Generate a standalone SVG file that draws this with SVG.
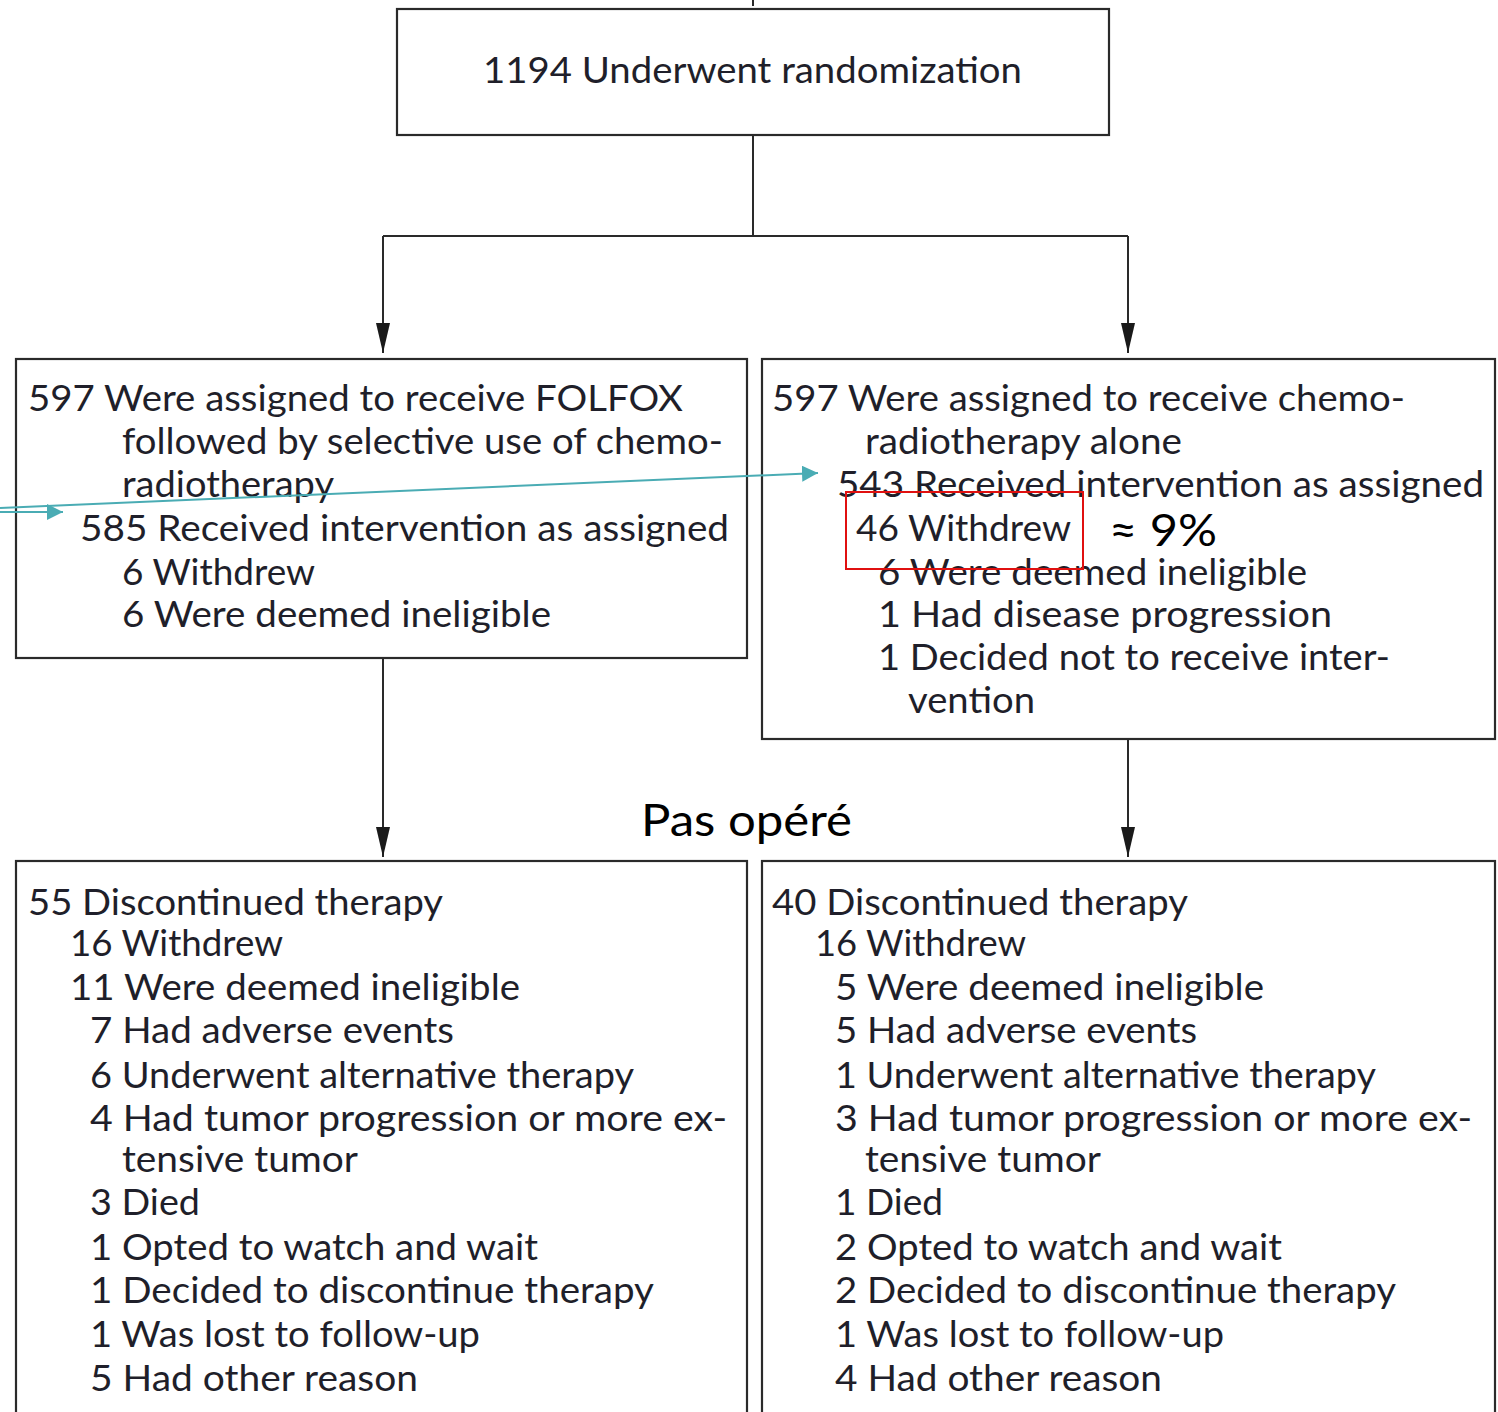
<svg xmlns="http://www.w3.org/2000/svg" width="1498" height="1412" viewBox="0 0 1498 1412">
<defs>
<style>
.box{fill:#fff;stroke:#2a2a2a;stroke-width:2.2}
.t{font-family:Lato,"Open Sans","Liberation Sans",sans-serif;font-size:37px;fill:#1f1f2a}
.n{font-family:Lato,"Open Sans","Liberation Sans",sans-serif;font-size:45px;font-weight:400;fill:#000}
.ln{stroke:#2a2a2a;stroke-width:2;fill:none}
.teal{stroke:#4aacb4;stroke-width:2;fill:none}
</style>
<marker id="ah" markerUnits="userSpaceOnUse" markerWidth="30" markerHeight="14" refX="30" refY="7" viewBox="0 0 30 14" orient="auto">
<path d="M0,0 L30,7 L0,14 Z" fill="#1a1a1a"/>
</marker>
<marker id="th" markerUnits="userSpaceOnUse" markerWidth="16" markerHeight="16" refX="16" refY="8" viewBox="0 0 16 16" orient="auto">
<path d="M0,0 L16,8 L0,16 Z" fill="#4aacb4"/>
</marker>
</defs>
<rect width="1498" height="1412" fill="#fff"/>

<g id="connectors">
<line class="ln" x1="753" y1="0" x2="753" y2="6"/>
<path class="ln" d="M753,135 V236 M383,236 H1128"/>
<line class="ln" x1="383" y1="236" x2="383" y2="353" marker-end="url(#ah)"/>
<line class="ln" x1="1128" y1="236" x2="1128" y2="353" marker-end="url(#ah)"/>
<line class="ln" x1="383" y1="658" x2="383" y2="857" marker-end="url(#ah)"/>
<line class="ln" x1="1128" y1="739" x2="1128" y2="857" marker-end="url(#ah)"/>
</g>

<g id="node-randomization">
<rect class="box" x="397" y="9" width="712" height="126"/>
<text class="t" x="483" y="83" textLength="539" lengthAdjust="spacingAndGlyphs">1194 Underwent randomization</text>
</g>

<g id="node-folfox">
<rect class="box" x="16" y="359" width="731" height="299"/>
<text class="t" x="28" y="411" textLength="655" lengthAdjust="spacingAndGlyphs">597 Were assigned to receive FOLFOX</text>
<text class="t" x="122" y="454" textLength="601" lengthAdjust="spacingAndGlyphs">followed by selective use of chemo-</text>
<text class="t" x="122" y="497" textLength="212" lengthAdjust="spacingAndGlyphs">radiotherapy</text>
<text class="t" x="80" y="541" textLength="649" lengthAdjust="spacingAndGlyphs">585 Received intervention as assigned</text>
<text class="t" x="122" y="585" textLength="193" lengthAdjust="spacingAndGlyphs">6 Withdrew</text>
<text class="t" x="122" y="627" textLength="429" lengthAdjust="spacingAndGlyphs">6 Were deemed ineligible</text>
</g>

<g id="node-chemoradio">
<rect class="box" x="762" y="359" width="733" height="380"/>
<text class="t" x="772" y="411" textLength="633" lengthAdjust="spacingAndGlyphs">597 Were assigned to receive chemo-</text>
<text class="t" x="865" y="454" textLength="317" lengthAdjust="spacingAndGlyphs">radiotherapy alone</text>
<text class="t" x="837" y="497" textLength="647" lengthAdjust="spacingAndGlyphs">543 Received intervention as assigned</text>
<text class="t" x="856" y="541" textLength="215" lengthAdjust="spacingAndGlyphs">46 Withdrew</text>
<text class="t" x="878" y="585" textLength="429" lengthAdjust="spacingAndGlyphs">6 Were deemed ineligible</text>
<text class="t" x="878" y="627" textLength="454" lengthAdjust="spacingAndGlyphs">1 Had disease progression</text>
<text class="t" x="878" y="670" textLength="512" lengthAdjust="spacingAndGlyphs">1 Decided not to receive inter-</text>
<text class="t" x="908" y="713" textLength="127" lengthAdjust="spacingAndGlyphs">vention</text>
</g>

<g id="node-discontinued-left">
<rect class="box" x="16" y="861" width="731" height="570"/>
<text class="t" x="28" y="915" textLength="415" lengthAdjust="spacingAndGlyphs">55 Discontinued therapy</text>
<text class="t" x="70" y="956" textLength="213" lengthAdjust="spacingAndGlyphs">16 Withdrew</text>
<text class="t" x="70" y="1000" textLength="450" lengthAdjust="spacingAndGlyphs">11 Were deemed ineligible</text>
<text class="t" x="90" y="1043" textLength="364" lengthAdjust="spacingAndGlyphs">7 Had adverse events</text>
<text class="t" x="90" y="1088" textLength="544" lengthAdjust="spacingAndGlyphs">6 Underwent alternative therapy</text>
<text class="t" x="90" y="1131" textLength="637" lengthAdjust="spacingAndGlyphs">4 Had tumor progression or more ex-</text>
<text class="t" x="122" y="1172" textLength="236" lengthAdjust="spacingAndGlyphs">tensive tumor</text>
<text class="t" x="90" y="1215" textLength="110" lengthAdjust="spacingAndGlyphs">3 Died</text>
<text class="t" x="90" y="1260" textLength="448" lengthAdjust="spacingAndGlyphs">1 Opted to watch and wait</text>
<text class="t" x="90" y="1303" textLength="564" lengthAdjust="spacingAndGlyphs">1 Decided to discontinue therapy</text>
<text class="t" x="90" y="1347" textLength="390" lengthAdjust="spacingAndGlyphs">1 Was lost to follow-up</text>
<text class="t" x="90" y="1391" textLength="328" lengthAdjust="spacingAndGlyphs">5 Had other reason</text>
</g>

<g id="node-discontinued-right">
<rect class="box" x="762" y="861" width="733" height="570"/>
<text class="t" x="772" y="915" textLength="416" lengthAdjust="spacingAndGlyphs">40 Discontinued therapy</text>
<text class="t" x="815" y="956" textLength="211" lengthAdjust="spacingAndGlyphs">16 Withdrew</text>
<text class="t" x="835" y="1000" textLength="429" lengthAdjust="spacingAndGlyphs">5 Were deemed ineligible</text>
<text class="t" x="835" y="1043" textLength="362" lengthAdjust="spacingAndGlyphs">5 Had adverse events</text>
<text class="t" x="835" y="1088" textLength="541" lengthAdjust="spacingAndGlyphs">1 Underwent alternative therapy</text>
<text class="t" x="835" y="1131" textLength="637" lengthAdjust="spacingAndGlyphs">3 Had tumor progression or more ex-</text>
<text class="t" x="865" y="1172" textLength="236" lengthAdjust="spacingAndGlyphs">tensive tumor</text>
<text class="t" x="835" y="1215" textLength="108" lengthAdjust="spacingAndGlyphs">1 Died</text>
<text class="t" x="835" y="1260" textLength="447" lengthAdjust="spacingAndGlyphs">2 Opted to watch and wait</text>
<text class="t" x="835" y="1303" textLength="561" lengthAdjust="spacingAndGlyphs">2 Decided to discontinue therapy</text>
<text class="t" x="835" y="1347" textLength="389" lengthAdjust="spacingAndGlyphs">1 Was lost to follow-up</text>
<text class="t" x="835" y="1391" textLength="327" lengthAdjust="spacingAndGlyphs">4 Had other reason</text>
</g>

<g id="annotations">
<rect x="846" y="492" width="237" height="77" fill="none" stroke="#e01010" stroke-width="2"/>
<text class="n" x="1109" y="546" textLength="108" lengthAdjust="spacingAndGlyphs">≈ 9%</text>
<text class="n" x="641" y="836" textLength="211" lengthAdjust="spacingAndGlyphs">Pas opéré</text>
<line class="teal" x1="0" y1="512" x2="63" y2="512" marker-end="url(#th)"/>
<line class="teal" x1="0" y1="508" x2="818" y2="473" marker-end="url(#th)"/>
</g>
</svg>
